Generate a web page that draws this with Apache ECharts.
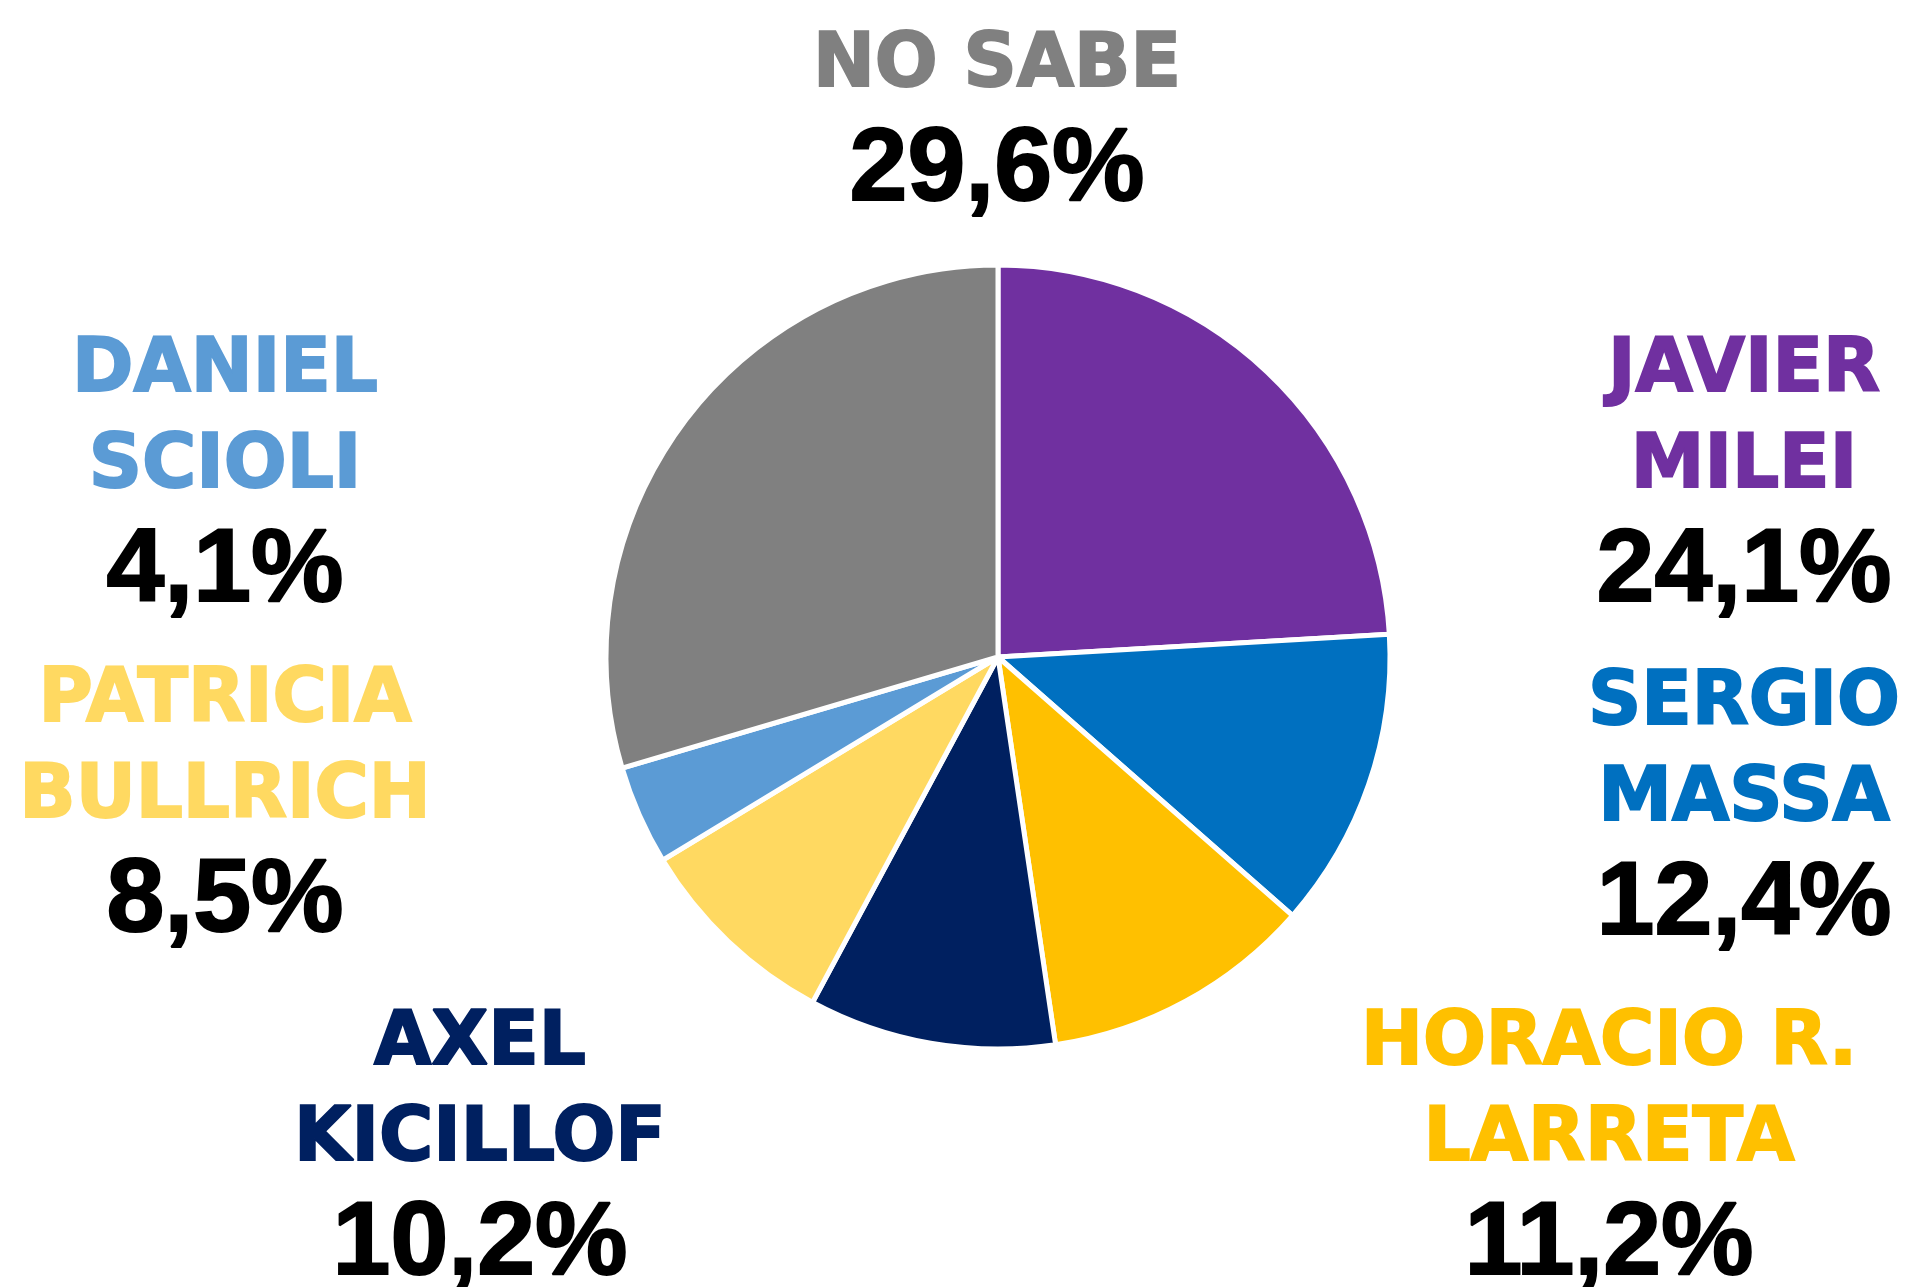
<!DOCTYPE html>
<html>
<head>
<meta charset="utf-8">
<script src="https://cdn.jsdelivr.net/npm/echarts@6/dist/echarts.min.js"></script>
<style>
  html, body { margin: 0; padding: 0; background: #fff; }
  #chart-container { width: 1907px; height: 1287px; }
</style>
</head>
<body>
<div id="chart-container"></div>
<script>
// datos de la encuesta
var names = ['JAVIER\nMILEI', 'SERGIO\nMASSA', 'HORACIO R.\nLARRETA', 'AXEL\nKICILLOF', 'PATRICIA\nBULLRICH', 'DANIEL\nSCIOLI', 'NO SABE'];
var values = [24.1, 12.4, 11.2, 10.2, 8.5, 4.1, 29.6];
var colors = ['#7030A0', '#0070C0', '#FFC000', '#002060', '#FFD961', '#5B9BD5', '#808080'];

// posicion de cada etiqueta (centro x, borde superior y)
var labelPos = [[1744, 324], [1744, 657], [1609, 997], [480, 997], [225, 654], [225, 324], [997, 19]];

var myChart = echarts.init(document.getElementById('chart-container'));

var option = {
    animation: false,
    series: [{
        type: 'pie',
        center: [998, 657],
        radius: 392,
        startAngle: 90,
        clockwise: true,
        avoidLabelOverlap: false,
        silent: true,
        itemStyle: {
            borderColor: '#fff',
            borderWidth: 5
        },
        labelLine: { show: false },
        label: {
            show: true,
            position: 'outside',
            formatter: function (p) {
                var lines = p.name.split('\n').map(function (s) { return '{n|' + s + '}'; });
                var pct = p.value.toFixed(1).replace('.', ',') + '%';
                return lines.join('\n') + '\n{v|' + pct + '}';
            },
            rich: {
                n: {
                    fontFamily: 'DejaVu Sans',
                    fontWeight: 'bold',
                    fontSize: 74,
                    lineHeight: 96,
                    align: 'center'
                },
                v: {
                    fontFamily: 'Liberation Sans',
                    fontWeight: 'bold',
                    fontSize: 104,
                    lineHeight: 113,
                    color: '#000',
                    textBorderColor: '#000',
                    textBorderWidth: 2,
                    align: 'center'
                }
            }
        },
        labelLayout: function (params) {
            var pos = labelPos[params.dataIndex];
            return { x: pos[0], y: pos[1], align: 'center', verticalAlign: 'top' };
        },
        data: values.map(function (v, i) {
            return {
                name: names[i],
                value: v,
                itemStyle: { color: colors[i] },
                label: { color: colors[i], textBorderColor: colors[i], textBorderWidth: 2 }
            };
        })
    }]
};

myChart.setOption(option);
</script>
</body>
</html>
